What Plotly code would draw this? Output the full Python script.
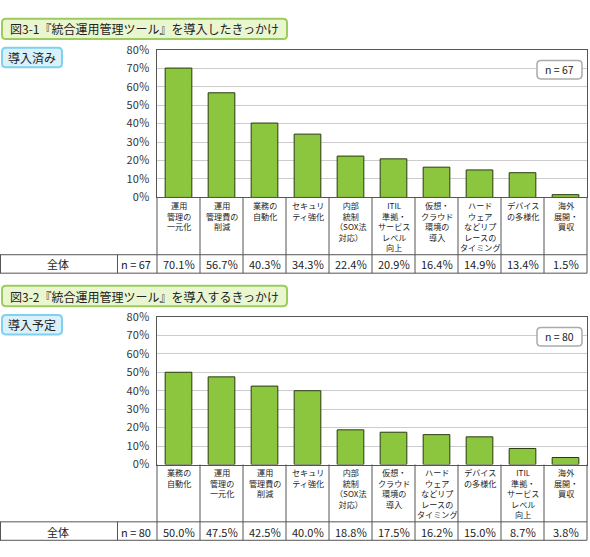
import plotly.graph_objects as go

W, H = 590, 557
FONT = "Noto Sans CJK JP"

# 図3-1 導入済み
titles = ["図3-1『統合運用管理ツール』を導入したきっかけ",
          "図3-2『統合運用管理ツール』を導入するきっかけ"]
badges = ["導入済み", "導入予定"]
n_labels = ["n = 67", "n = 80"]

cats_done = ["運用\n管理の\n一元化", "運用\n管理費の\n削減", "業務の\n自動化",
             "セキュリ\nティ強化", "内部\n統制\n（SOX法\n対応）",
             "ITIL\n準拠・\nサービス\nレベル\n向上", "仮想・\nクラウド\n環境の\n導入",
             "ハード\nウェア\nなどリプ\nレースの\nタイミング", "デバイス\nの多様化",
             "海外\n展開・\n買収"]
vals_done = [70.1, 56.7, 40.3, 34.3, 22.4, 20.9, 16.4, 14.9, 13.4, 1.5]

# 図3-2 導入予定
cats_plan = ["業務の\n自動化", "運用\n管理の\n一元化", "運用\n管理費の\n削減",
             "セキュリ\nティ強化", "内部\n統制\n（SOX法\n対応）",
             "仮想・\nクラウド\n環境の\n導入", "ハード\nウェア\nなどリプ\nレースの\nタイミング",
             "デバイス\nの多様化", "ITIL\n準拠・\nサービス\nレベル\n向上",
             "海外\n展開・\n買収"]
vals_plan = [50.0, 47.5, 42.5, 40.0, 18.8, 17.5, 16.2, 15.0, 8.7, 3.8]

y_ticks = [0, 10, 20, 30, 40, 50, 60, 70, 80]

BAR = "#8cc63f"
BAR_LINE = "#2a3a10"
LINE = "#555555"
TXT = "#222222"


def px(x):
    return x / W


def py(y):
    return 1 - y / H


def rounded(x0, y0, x1, y1, r):
    pts = [
        f"M {px(x0 + r)},{py(y0)}", f"L {px(x1 - r)},{py(y0)}",
        f"Q {px(x1)},{py(y0)} {px(x1)},{py(y0 + r)}", f"L {px(x1)},{py(y1 - r)}",
        f"Q {px(x1)},{py(y1)} {px(x1 - r)},{py(y1)}", f"L {px(x0 + r)},{py(y1)}",
        f"Q {px(x0)},{py(y1)} {px(x0)},{py(y1 - r)}", f"L {px(x0)},{py(y0 + r)}",
        f"Q {px(x0)},{py(y0)} {px(x0 + r)},{py(y0)}", "Z",
    ]
    return " ".join(pts)


def text_at(x, y, text, size, xref="paper", xanchor="center", yanchor="middle"):
    return dict(x=x, y=y, xref=xref, yref="paper", xanchor=xanchor, yanchor=yanchor,
                showarrow=False, text=text, borderpad=0, align="center",
                font=dict(size=size, color=TXT, family=FONT))


fig = go.Figure()
shapes = []
annotations = []

panels = [(cats_done, vals_done), (cats_plan, vals_plan)]
for k, (cats, vals) in enumerate(panels):
    dy = 275 * k
    sfx = "" if k == 0 else str(k + 1)
    xa, ya = "x" + sfx, "y" + sfx
    top, bot = 42 + dy, 194 + dy
    t_top, t_bot = 253 + dy, 272 + dy
    left, right = 157, 587

    fig.add_trace(go.Bar(
        x=list(range(len(vals))), y=vals, xaxis=xa, yaxis=ya,
        width=0.62, marker=dict(color=BAR, line=dict(color=BAR_LINE, width=1)),
        hoverinfo="skip", showlegend=False,
    ))

    fig.update_layout(**{
        "xaxis" + sfx: dict(domain=[px(left), px(right)], anchor=ya,
                            range=[-0.5, len(vals) - 0.5], showticklabels=False,
                            showgrid=False, zeroline=False, showline=True,
                            mirror=True, linecolor=LINE, fixedrange=True),
        "yaxis" + sfx: dict(domain=[py(bot), py(top)], anchor=xa, range=[0, 80],
                            tickvals=y_ticks, ticktext=[f"{v}％" for v in y_ticks],
                            tickfont=dict(size=11, color="#333333", family=FONT),
                            showgrid=True, gridcolor="#cccccc", gridwidth=1,
                            zeroline=False, showline=True, mirror=True,
                            linecolor=LINE, ticks="", ticklabelstandoff=4,
                            fixedrange=True),
    })

    # title box and badge
    shapes.append(dict(type="path", xref="paper", yref="paper",
                       path=rounded(2, 10 + dy, 287, 31 + dy, 4),
                       fillcolor="#e9f6cf", line=dict(color="#9ccc5c", width=2),
                       layer="below"))
    annotations.append(text_at(px(9), py(20.5 + dy), titles[k], 12, xanchor="left"))
    shapes.append(dict(type="path", xref="paper", yref="paper",
                       path=rounded(2, 40 + dy, 62, 60 + dy, 4),
                       fillcolor="#d8f1fb", line=dict(color="#80d0f0", width=2),
                       layer="below"))
    annotations.append(text_at(px(32), py(50 + dy), badges[k], 12))

    # n box
    shapes.append(dict(type="path", xref="paper", yref="paper",
                       path=rounded(537, 53 + dy, 582, 72 + dy, 4),
                       fillcolor="white", line=dict(color="#aaaaaa", width=1.5)))
    annotations.append(text_at(px(559.5), py(62.5 + dy), n_labels[k], 10.5))

    # frame lines through label area and table
    for xv in (left, right):
        shapes.append(dict(type="line", xref="paper", yref="paper",
                           x0=px(xv), x1=px(xv), y0=py(bot), y1=py(t_bot),
                           line=dict(color=LINE, width=1)))
    for xv in (0, 117):
        shapes.append(dict(type="line", xref="paper", yref="paper",
                           x0=px(xv + 0.5), x1=px(xv + 0.5), y0=py(t_top), y1=py(t_bot),
                           line=dict(color=LINE, width=1)))
    for yv in (t_top, t_bot):
        shapes.append(dict(type="line", xref="paper", yref="paper",
                           x0=0, x1=px(right), y0=py(yv), y1=py(yv),
                           line=dict(color=LINE, width=1)))
    for i in range(len(vals) - 1):
        shapes.append(dict(type="line", xref=xa, yref="paper",
                           x0=i + 0.5, x1=i + 0.5, y0=py(bot), y1=py(t_bot),
                           line=dict(color=LINE, width=1)))

    # category labels
    for i, lab in enumerate(cats):
        annotations.append(text_at(i, py(bot + 2), lab.replace("\n", "<br>"), 8.1,
                                   xref=xa, yanchor="top"))

    # table row
    t_mid = (t_top + t_bot) / 2 + 0.5
    annotations.append(text_at(px(58), py(t_mid), "全体", 11))
    annotations.append(text_at(px(136), py(t_mid), n_labels[k], 11))
    for i, v in enumerate(vals):
        annotations.append(text_at(i, py(t_mid), f"{v:.1f}％", 11, xref=xa))

fig.update_layout(
    width=W, height=H,
    margin=dict(l=0, r=0, t=0, b=0),
    paper_bgcolor="white", plot_bgcolor="white",
    font=dict(family=FONT),
    shapes=shapes, annotations=annotations,
)

fig.write_html("out.html", config={"displayModeBar": False},
               post_script="document.body.style.margin='0';"
                           "document.body.style.overflow='hidden';")
